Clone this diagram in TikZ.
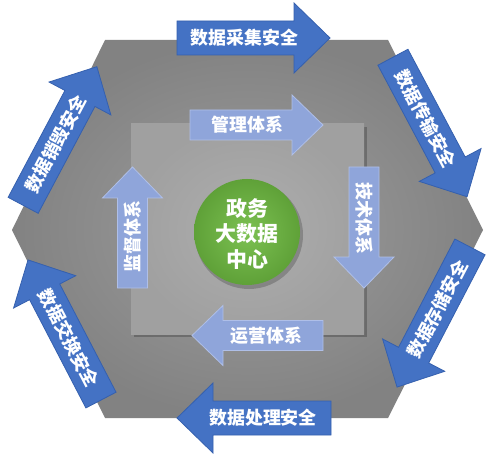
\documentclass[tikz,border=0pt]{standalone}
\usepackage{fontspec}
\setmainfont{Noto Sans CJK SC}
\definecolor{obl}{HTML}{4472C4}
\definecolor{obd}{HTML}{3560AE}
\definecolor{ibl}{HTML}{8FA5DA}
\definecolor{ibd}{HTML}{AFBFE8}
\definecolor{hexin}{HTML}{9E9E9E}
\definecolor{hexout}{HTML}{828282}
\definecolor{sqin}{HTML}{AEAEAE}
\definecolor{sqout}{HTML}{A0A0A0}
\definecolor{grin}{HTML}{7CC152}
\definecolor{grout}{HTML}{5FA138}
\tikzset{
  outerA/.style={fill=obl, draw=obd, line width=0.8bp},
  innerA/.style={fill=ibl, draw=ibd, line width=0.8bp},
  lbl/.style={text=white, font=\bfseries\fontsize{18}{18}\selectfont, inner sep=0pt},
  pics/bigarrow/.style n args={3}{code={
    \path[outerA] (-#1/2,-17) -- ({#1/2-36},-17) -- ({#1/2-36},-35) -- (#1/2,0)
      -- ({#1/2-36},35) -- ({#1/2-36},17) -- (-#1/2,17) -- cycle;
    \node[lbl, transform shape, rotate=#2] (-t) at (-9,0) {#3};
  }},
  pics/smallarrow/.style n args={3}{code={
    \path[innerA] (-#1/2,-15) -- ({#1/2-31},-15) -- ({#1/2-31},-30) -- (#1/2,0)
      -- ({#1/2-31},30) -- ({#1/2-31},15) -- (-#1/2,15) -- cycle;
    \node[lbl, transform shape, rotate=#2] (-t) at (-9,0) {#3};
  }},
}
\begin{document}
\begin{tikzpicture}[x=1bp,y=-1bp]
\useasboundingbox (0,0) rectangle (500,456);
\fill[white] (0,0) rectangle (500,456);
% hexagon
\shade[inner color=hexin, outer color=hexout]
  (105,40) -- (388,40) -- (483,230) -- (388,418) -- (105,418) -- (12,230) -- cycle;
% inner square with shadow
\fill[black, opacity=0.22] (134,127) rectangle (367,337);
\shade[inner color=sqin, outer color=sqout] (131,124) rectangle (364,334);
% outer arrows
\pic at (253.5,38) (collect) {bigarrow={153}{0}{数据采集安全}};
\pic[rotate=-62] at (430,127) (transmit) {bigarrow={158}{0}{数据传输安全}};
\pic[rotate=-117.5] at (433.5,317) (store) {bigarrow={158}{180}{数据存储安全}};
\pic[rotate=180] at (254,418) (process) {bigarrow={154}{180}{数据处理安全}};
\pic[rotate=117.5] at (64.5,330) (exchange) {bigarrow={158}{180}{数据交换安全}};
\pic[rotate=62] at (60,136) (destroy) {bigarrow={157}{0}{数据销毁安全}};
% inner arrows
\pic at (256.5,125) (mgmt) {smallarrow={133}{0}{管理体系}};
\pic[rotate=-90] at (364,227.5) (tech) {smallarrow={121}{0}{技术体系}};
\pic[rotate=180] at (257.5,335.5) (ops) {smallarrow={131}{180}{运营体系}};
\pic[rotate=90] at (132.5,227.5) (super) {smallarrow={121}{0}{监督体系}};
% center circle
\fill[black, opacity=0.2] (249,235) circle (54);
\shade[inner color=grin, outer color=grout] (247,232) circle (53);
\node[text=white, align=center, inner sep=0pt, font=\bfseries\fontsize{21}{26}\selectfont] (center) at (247,234) {政务\\大数据\\中心};
\end{tikzpicture}
\end{document}
